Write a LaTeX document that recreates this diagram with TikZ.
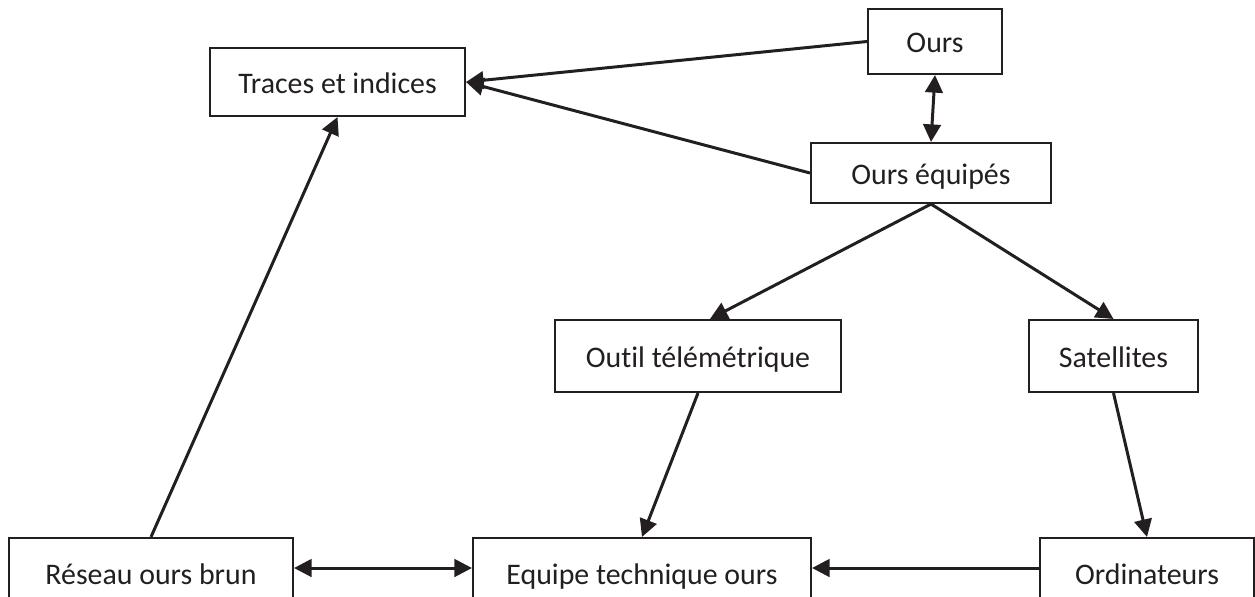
\documentclass[tikz,border=0pt]{standalone}
\usepackage{fontspec}
\setmainfont{Carlito}[Ligatures=CommonOff]
\usetikzlibrary{arrows.meta,positioning}
\definecolor{ink}{HTML}{231F20}

\begin{document}
\begin{tikzpicture}[
  x=0.02cm, y=-0.02cm,
  box/.style={rectangle, draw=ink, line width=1.2pt, minimum height=1.2cm, inner sep=2pt, align=center, text height=14pt, text depth=1.2pt, font=\fontsize{17}{20}\selectfont, text=ink},
  link/.style={draw=ink, line width=1.7pt},
  >={Triangle[length=10pt,width=10pt]}
]
\useasboundingbox (0,0) rectangle (1255,596);

% haut
\node[box, minimum width=2.68cm, minimum height=1.3cm] (ours) at (935,41.5) {Ours};
\node[box, minimum width=5.1cm, minimum height=1.36cm] (traces) at (337.5,82) {Traces et indices};
\node[box, minimum width=4.8cm] (equipes) at (931,173) {Ours équipés};

% milieu
\node[box, minimum width=5.72cm, minimum height=1.44cm] (outil) at (698,356) {Outil télémétrique};
\node[box, minimum width=3.38cm, minimum height=1.44cm] (sat) at (1113.5,356) {Satellites};

% bas (coupé par le bord)
\node[box, minimum width=5.68cm, minimum height=1.4cm] (reseau) at (151,573) {Réseau ours brun};
\node[box, minimum width=6.76cm, minimum height=1.4cm] (equipe) at (642,573) {Equipe technique ours};
\node[box, minimum width=4.28cm, minimum height=1.4cm] (ordi) at (1147,573) {Ordinateurs};

\draw[link, ->] (ours.west) -- (traces.east);
\draw[link, ->] (equipes.west) -- (traces.east);
\draw[link, <->] (ours.south) -- (equipes.north);
\draw[link, ->] (equipes.south) -- ([xshift=0.24cm]outil.north);
\draw[link, ->] (equipes.south) -- (sat.north);
\draw[link, ->] (outil.south) -- (equipe.north);
\draw[link, ->] (sat.south) -- (ordi.north);
\draw[link, ->] ([yshift=0.1cm]ordi.west) -- ([yshift=0.1cm]equipe.east);
\draw[link, <->] ([yshift=0.1cm]reseau.east) -- ([yshift=0.1cm]equipe.west);
\draw[link, ->] (reseau.north) -- (traces.south);
\end{tikzpicture}
\end{document}
